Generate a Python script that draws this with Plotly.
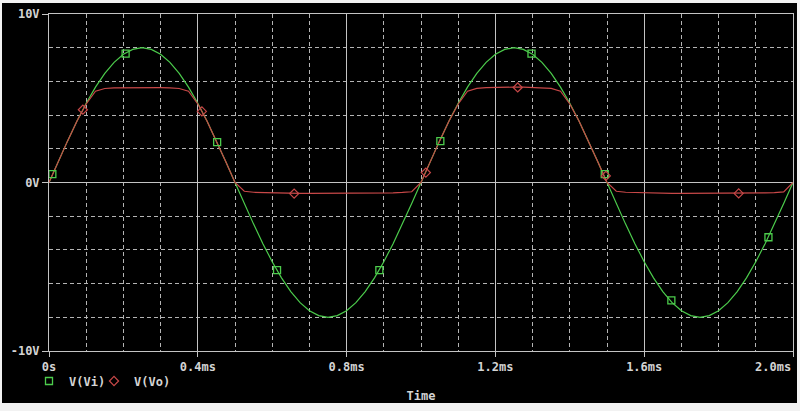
import plotly.graph_objects as go

# Time samples (ms)
t_ms = [0.000, 0.025, 0.050, 0.075, 0.100, 0.125, 0.150, 0.175, 0.200, 0.225,
        0.250, 0.275, 0.300, 0.325, 0.350, 0.375, 0.400, 0.425, 0.450, 0.475,
        0.500, 0.525, 0.550, 0.575, 0.600, 0.625, 0.650, 0.675, 0.700, 0.725,
        0.750, 0.775, 0.800, 0.825, 0.850, 0.875, 0.900, 0.925, 0.950, 0.975,
        1.000, 1.025, 1.050, 1.075, 1.100, 1.125, 1.150, 1.175, 1.200, 1.225,
        1.250, 1.275, 1.300, 1.325, 1.350, 1.375, 1.400, 1.425, 1.450, 1.475,
        1.500, 1.525, 1.550, 1.575, 1.600, 1.625, 1.650, 1.675, 1.700, 1.725,
        1.750, 1.775, 1.800, 1.825, 1.850, 1.875, 1.900, 1.925, 1.950, 1.975,
        2.000]

# V(Vi) input sine (V)
v_vi = [0.00, 1.25, 2.47, 3.63, 4.70, 5.66, 6.47, 7.13, 7.61, 7.90,
        8.00, 7.90, 7.61, 7.13, 6.47, 5.66, 4.70, 3.63, 2.47, 1.25,
        0.00, -1.25, -2.47, -3.63, -4.70, -5.66, -6.47, -7.13, -7.61, -7.90,
        -8.00, -7.90, -7.61, -7.13, -6.47, -5.66, -4.70, -3.63, -2.47, -1.25,
        0.00, 1.25, 2.47, 3.63, 4.70, 5.66, 6.47, 7.13, 7.61, 7.90,
        8.00, 7.90, 7.61, 7.13, 6.47, 5.66, 4.70, 3.63, 2.47, 1.25,
        0.00, -1.25, -2.47, -3.63, -4.70, -5.66, -6.47, -7.13, -7.61, -7.90,
        -8.00, -7.90, -7.61, -7.13, -6.47, -5.66, -4.70, -3.63, -2.47, -1.25,
        0.00]

# V(Vo) clipped output (V)
v_vo = [0.00, 1.25, 2.47, 3.63, 4.66, 5.42, 5.58, 5.62, 5.63, 5.64,
        5.64, 5.64, 5.63, 5.62, 5.58, 5.42, 4.66, 3.63, 2.47, 1.25,
        0.00, -0.52, -0.58, -0.60, -0.62, -0.63, -0.64, -0.65, -0.65, -0.65,
        -0.65, -0.65, -0.65, -0.64, -0.64, -0.63, -0.62, -0.61, -0.59, -0.55,
        0.00, 1.25, 2.47, 3.63, 4.66, 5.42, 5.59, 5.63, 5.65, 5.66,
        5.66, 5.66, 5.65, 5.63, 5.59, 5.42, 4.66, 3.63, 2.47, 1.25,
        0.00, -0.52, -0.58, -0.60, -0.62, -0.63, -0.64, -0.65, -0.65, -0.65,
        -0.65, -0.65, -0.65, -0.65, -0.64, -0.64, -0.63, -0.62, -0.60, -0.56,
        0.00]

# Trace markers as drawn by the simulator
vi_mark_t = [0.009, 0.206, 0.452, 0.613, 0.888, 1.052, 1.297, 1.494, 1.673, 1.934]
vi_mark_v = [0.50, 7.65, 2.40, -5.20, -5.20, 2.45, 7.65, 0.50, -7.00, -3.25]
vo_mark_t = [0.091, 0.411, 0.659, 1.013, 1.260, 1.497, 1.854]
vo_mark_v = [4.32, 4.22, -0.66, 0.59, 5.64, 0.39, -0.65]

x_tickvals = [0.0, 0.4, 0.8, 1.2, 1.6, 2.0]
x_ticktext = ["0s", "0.4ms", "0.8ms", "1.2ms", "1.6ms", ""]
last_x_label = "2.0ms"
y_tickvals = [-10, 0, 10]
y_ticktext = ["-10V", "0V", "10V"]

GREEN = "#4ccc4c"
RED = "#c84848"
TXT = "#d4d4d4"
GRID = "#b4b4b4"
FRAME = "#c4c4c4"
FONT = "DejaVu Sans Mono"

W, H = 800, 411
L, R, T, B = 49, 7, 14, 60
PW, PH = W - L - R, H - T - B


def px_x(p):
    return (p - L) / PW


def px_y(p):
    return (H - B - p) / PH


tickfont = dict(family=FONT, size=12, color=TXT, weight="bold")

fig = go.Figure()
fig.add_trace(go.Scatter(x=t_ms, y=v_vi, mode="lines", line=dict(color=GREEN, width=1.2),
                         showlegend=False, hoverinfo="skip"))
fig.add_trace(go.Scatter(x=t_ms, y=v_vo, mode="lines", line=dict(color=RED, width=1.2),
                         showlegend=False, hoverinfo="skip"))
fig.add_trace(go.Scatter(x=vi_mark_t, y=vi_mark_v, mode="markers", name="V(Vi)",
                         legend="legend",
                         marker=dict(symbol="square-open", size=7, color=GREEN,
                                     line=dict(width=1.3, color=GREEN))))
fig.add_trace(go.Scatter(x=vo_mark_t, y=vo_mark_v, mode="markers", name="V(Vo)",
                         legend="legend2",
                         marker=dict(symbol="diamond-open", size=7, color=RED,
                                     line=dict(width=1.2, color=RED))))

legfont = dict(family=FONT, size=12, color=TXT, weight="bold")

fig.update_layout(
    width=W, height=H,
    margin=dict(l=L, r=R, t=T, b=B, pad=0),
    paper_bgcolor="#f2f2f2",
    plot_bgcolor="black",
    showlegend=True,
    legend=dict(orientation="h", x=px_x(29), xanchor="left", y=px_y(381), yanchor="middle",
                font=legfont, bgcolor="rgba(0,0,0,0)", itemwidth=30),
    legend2=dict(orientation="h", x=px_x(94), xanchor="left", y=px_y(381), yanchor="middle",
                 font=legfont, bgcolor="rgba(0,0,0,0)", itemwidth=30),
    shapes=[dict(type="rect", xref="paper", yref="paper",
                 x0=px_x(2), x1=px_x(797), y0=px_y(403), y1=px_y(3),
                 fillcolor="black", line=dict(width=0), layer="below")],
    annotations=[dict(x=2.0, xref="x", y=px_y(367), yref="paper", text=last_x_label,
                      showarrow=False, xanchor="right", yanchor="middle", font=tickfont)],
)

fig.update_xaxes(
    range=[0, 2], tickvals=x_tickvals, ticktext=x_ticktext,
    ticks="outside", ticklen=5, tickcolor=FRAME, tickwidth=1, tickfont=tickfont,
    showgrid=True, gridcolor=FRAME, gridwidth=1,
    showline=True, linecolor=FRAME, linewidth=1, mirror=True, zeroline=False,
    minor=dict(tickmode="linear", tick0=0, dtick=0.1, showgrid=True, gridcolor=GRID,
               griddash="4px,3px", gridwidth=1, ticks=""),
    title=dict(text="Time", font=dict(family=FONT, size=12, color=TXT, weight="bold"),
               standoff=18),
    automargin=False,
)
fig.update_yaxes(
    range=[-10, 10], tickvals=y_tickvals, ticktext=y_ticktext,
    ticks="outside", ticklen=6, tickcolor=FRAME, tickwidth=1, tickfont=tickfont,
    showgrid=True, gridcolor=FRAME, gridwidth=1,
    showline=True, linecolor=FRAME, linewidth=1, mirror=True, zeroline=False,
    minor=dict(tickmode="linear", tick0=-10, dtick=2, showgrid=True, gridcolor=GRID,
               griddash="4px,3px", gridwidth=1, ticks=""),
    automargin=False,
)

fig.write_html("out.html", config={"displayModeBar": False},
               post_script="document.body.style.margin='0px';")
